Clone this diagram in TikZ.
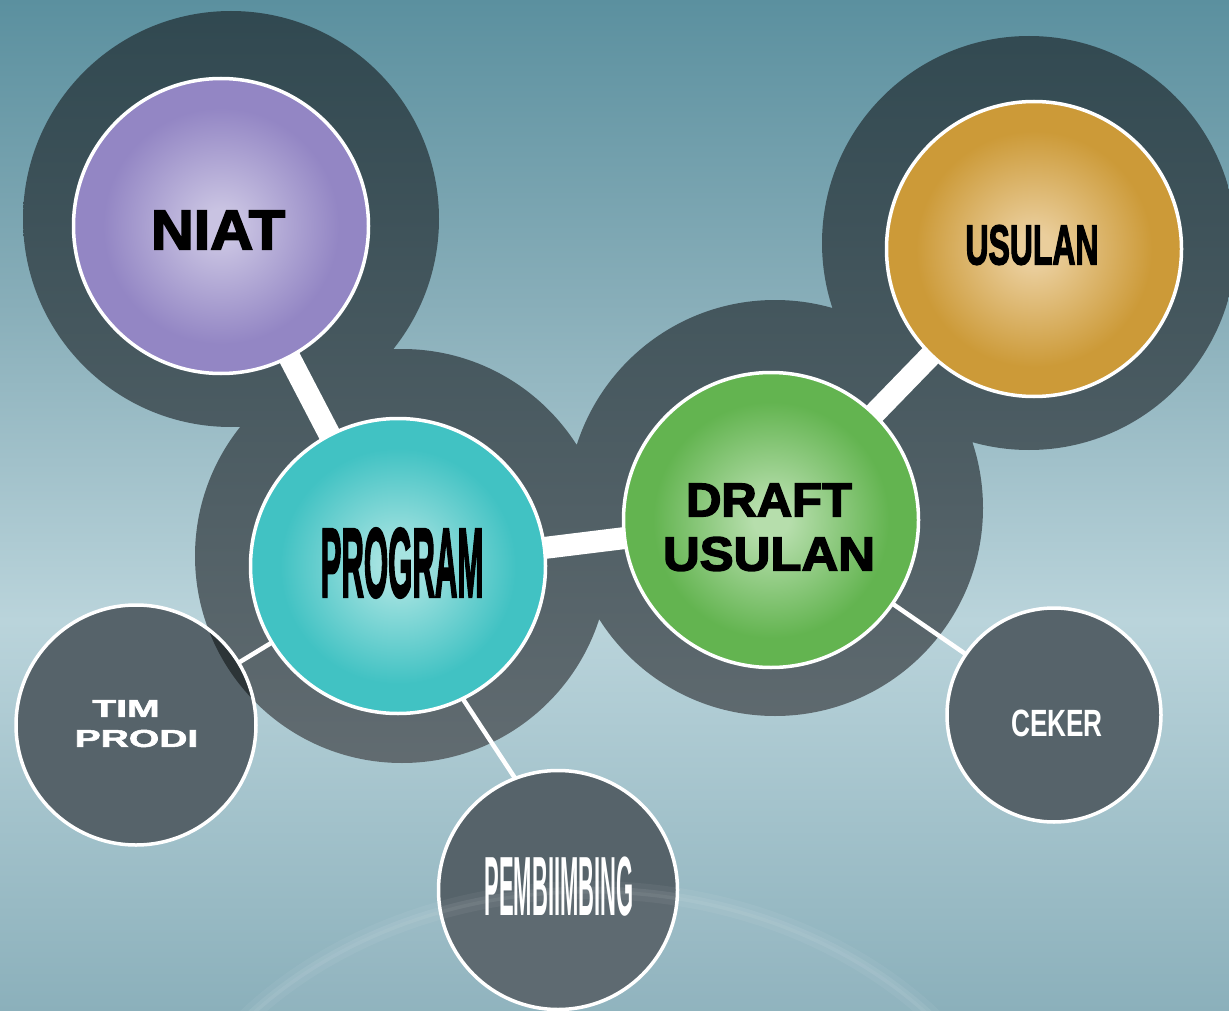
\documentclass[tikz,border=0pt]{standalone}
\usepackage{fontspec}
\setmainfont{Liberation Sans}
\newfontface\heavyface{Liberation Sans Bold}[FakeBold=3]
\newfontface\midface{Liberation Sans Bold}[FakeBold=2]
\newfontface\boldface{Liberation Sans Bold}
\definecolor{bgtop}{HTML}{5B909F}
\definecolor{bgup}{HTML}{88AEB9}
\definecolor{bgmid}{HTML}{BAD4DB}
\definecolor{bgbot}{HTML}{8BB0BB}
\definecolor{ringtop}{HTML}{304850}
\definecolor{ringmid}{HTML}{4B5A60}
\definecolor{ringbot}{HTML}{626C71}
\definecolor{smallfill}{HTML}{56636A}
\definecolor{lenscol}{HTML}{2C3437}
\definecolor{niatin}{HTML}{C9C3E2}
\definecolor{niatout}{HTML}{9386C4}
\definecolor{progin}{HTML}{A6E3E1}
\definecolor{progout}{HTML}{41C2C3}
\definecolor{draftin}{HTML}{B6DEAC}
\definecolor{draftout}{HTML}{63B450}
\definecolor{usulin}{HTML}{EACE9C}
\definecolor{usulout}{HTML}{CC9A38}
\pgfdeclareverticalshading{bgshade}{100bp}{color(0bp)=(bgbot); color(25bp)=(bgbot); color(44.3bp)=(bgmid); color(60bp)=(bgup); color(75bp)=(bgtop); color(100bp)=(bgtop)}
\pgfdeclareradialshading{niatball}{\pgfpoint{0bp}{0bp}}{color(0bp)=(niatin); color(3bp)=(niatin); color(20bp)=(niatout); color(50bp)=(niatout)}
\pgfdeclareradialshading{progball}{\pgfpoint{0bp}{0bp}}{color(0bp)=(progin); color(3bp)=(progin); color(20bp)=(progout); color(50bp)=(progout)}
\pgfdeclareradialshading{draftball}{\pgfpoint{0bp}{0bp}}{color(0bp)=(draftin); color(3bp)=(draftin); color(20bp)=(draftout); color(50bp)=(draftout)}
\pgfdeclareradialshading{usulball}{\pgfpoint{0bp}{0bp}}{color(0bp)=(usulin); color(3bp)=(usulin); color(20bp)=(usulout); color(50bp)=(usulout)}
\pgfdeclarelayer{bglayer}
\pgfdeclarelayer{ringlayer}
\pgfdeclarelayer{linklayer}
\pgfsetlayers{bglayer,ringlayer,linklayer,main}
\begin{document}
\begin{tikzpicture}[x=1pt,y=-1pt,
  ball/.style={circle, draw=white, line width=3.5pt, minimum size=#1, inner sep=0pt, outer sep=0pt},
  smallball/.style={circle, draw=white, line width=3.5pt, fill=smallfill, minimum size=#1, inner sep=0pt, outer sep=0pt},
  bar/.style={white, line width=22pt},
  thinlink/.style={white, line width=4.5pt},
  lbl/.style={inner sep=0pt, outer sep=0pt, anchor=center}]
\useasboundingbox (0,0) rectangle (1229,1011);
\clip (0,0) rectangle (1229,1011);
% background
\begin{pgfonlayer}{bglayer}
\shade[shading=bgshade] (0,0) rectangle (1229,1011);
\end{pgfonlayer}
% rings
\coordinate (rNiat) at (231,219);
\coordinate (rProg) at (402,556);
\coordinate (rDraft) at (775,508);
\coordinate (rUsul) at (1029,243);
\begin{pgfonlayer}{ringlayer}
\begin{scope}
\clip (rNiat) circle[radius=208] (rProg) circle[radius=207] (rDraft) circle[radius=208] (rUsul) circle[radius=207];
\shade[top color=ringtop, middle color=ringmid, bottom color=ringbot] (0,0) rectangle (1229,775);
\end{scope}
\end{pgfonlayer}
% main circles
\node[ball=295pt, shading=niatball] (niat) at (221,226) {};
\node[ball=295pt, shading=progball] (prog) at (398,566) {};
\node[ball=295pt, shading=draftball] (draft) at (771,520) {};
\node[ball=295pt, shading=usulball] (usul) at (1034,249) {};
% small circles
\node[smallball=240pt] (tim) at (136,725) {};
\node[smallball=239pt] (pemb) at (558,890) {};
\node[smallball=214pt] (ceker) at (1054,715) {};
% dark lens where TIM PRODI lies over the ring
\begin{scope}
\clip (tim.center) circle[radius=118];
\fill[lenscol] (rProg) circle[radius=207];
\end{scope}
% soft glow arc at the bottom
\fill[white, opacity=0.05] (590,1250) ellipse[x radius=450, y radius=360];
\draw[white, opacity=0.05, line width=18pt] (590,1250) ellipse[x radius=450, y radius=360];
\draw[white, opacity=0.07, line width=7pt] (590,1250) ellipse[x radius=450, y radius=360];
% links
\begin{pgfonlayer}{linklayer}
\draw[bar] (niat.center) -- (prog.center);
\draw[bar] (prog.center) -- (draft.center);
\draw[bar] (draft.center) -- (usul.center);
\draw[thinlink] (prog.center) -- (tim.center);
\draw[thinlink] (prog.-64.5) -- (pemb.111.5);
\draw[thinlink] (draft.center) -- (ceker.center);
\end{pgfonlayer}
% labels
\node[lbl] (niatT) at (218,230) {\heavyface\fontsize{56}{56}\selectfont\scalebox{1.06}[1]{NIAT}};
\node[lbl] (progT) at (402,563) {\heavyface\fontsize{98}{98}\selectfont\scalebox{0.318}[1]{PROGRAM}};
\node[lbl] (draftT1) at (769,500) {\heavyface\fontsize{47.5}{47.5}\selectfont\scalebox{1.03}[1]{DRAFT}};
\node[lbl] (draftT2) at (769,554) {\heavyface\fontsize{48}{48}\selectfont\scalebox{1.06}[1]{USULAN}};
\node[lbl] (usulT) at (1032,245) {\heavyface\fontsize{56}{56}\selectfont\scalebox{0.57}[1]{USULAN}};
\node[lbl, text=white] (timT1) at (126,708.5) {\midface\fontsize{24.4}{24.4}\selectfont\scalebox{1.6}[1]{TIM}};
\node[lbl, text=white] (timT2) at (136.5,738.5) {\midface\fontsize{24.4}{24.4}\selectfont\scalebox{1.6}[1]{PRODI}};
\node[lbl, text=white] (pembT) at (559,887) {\boldface\fontsize{84}{84}\selectfont\scalebox{0.262}[1]{PEMBIIMBING}};
\node[lbl, text=white] (cekerT) at (1057,723) {\boldface\fontsize{38}{38}\selectfont\scalebox{0.69}[1]{CEKER}};
\end{tikzpicture}
\end{document}
